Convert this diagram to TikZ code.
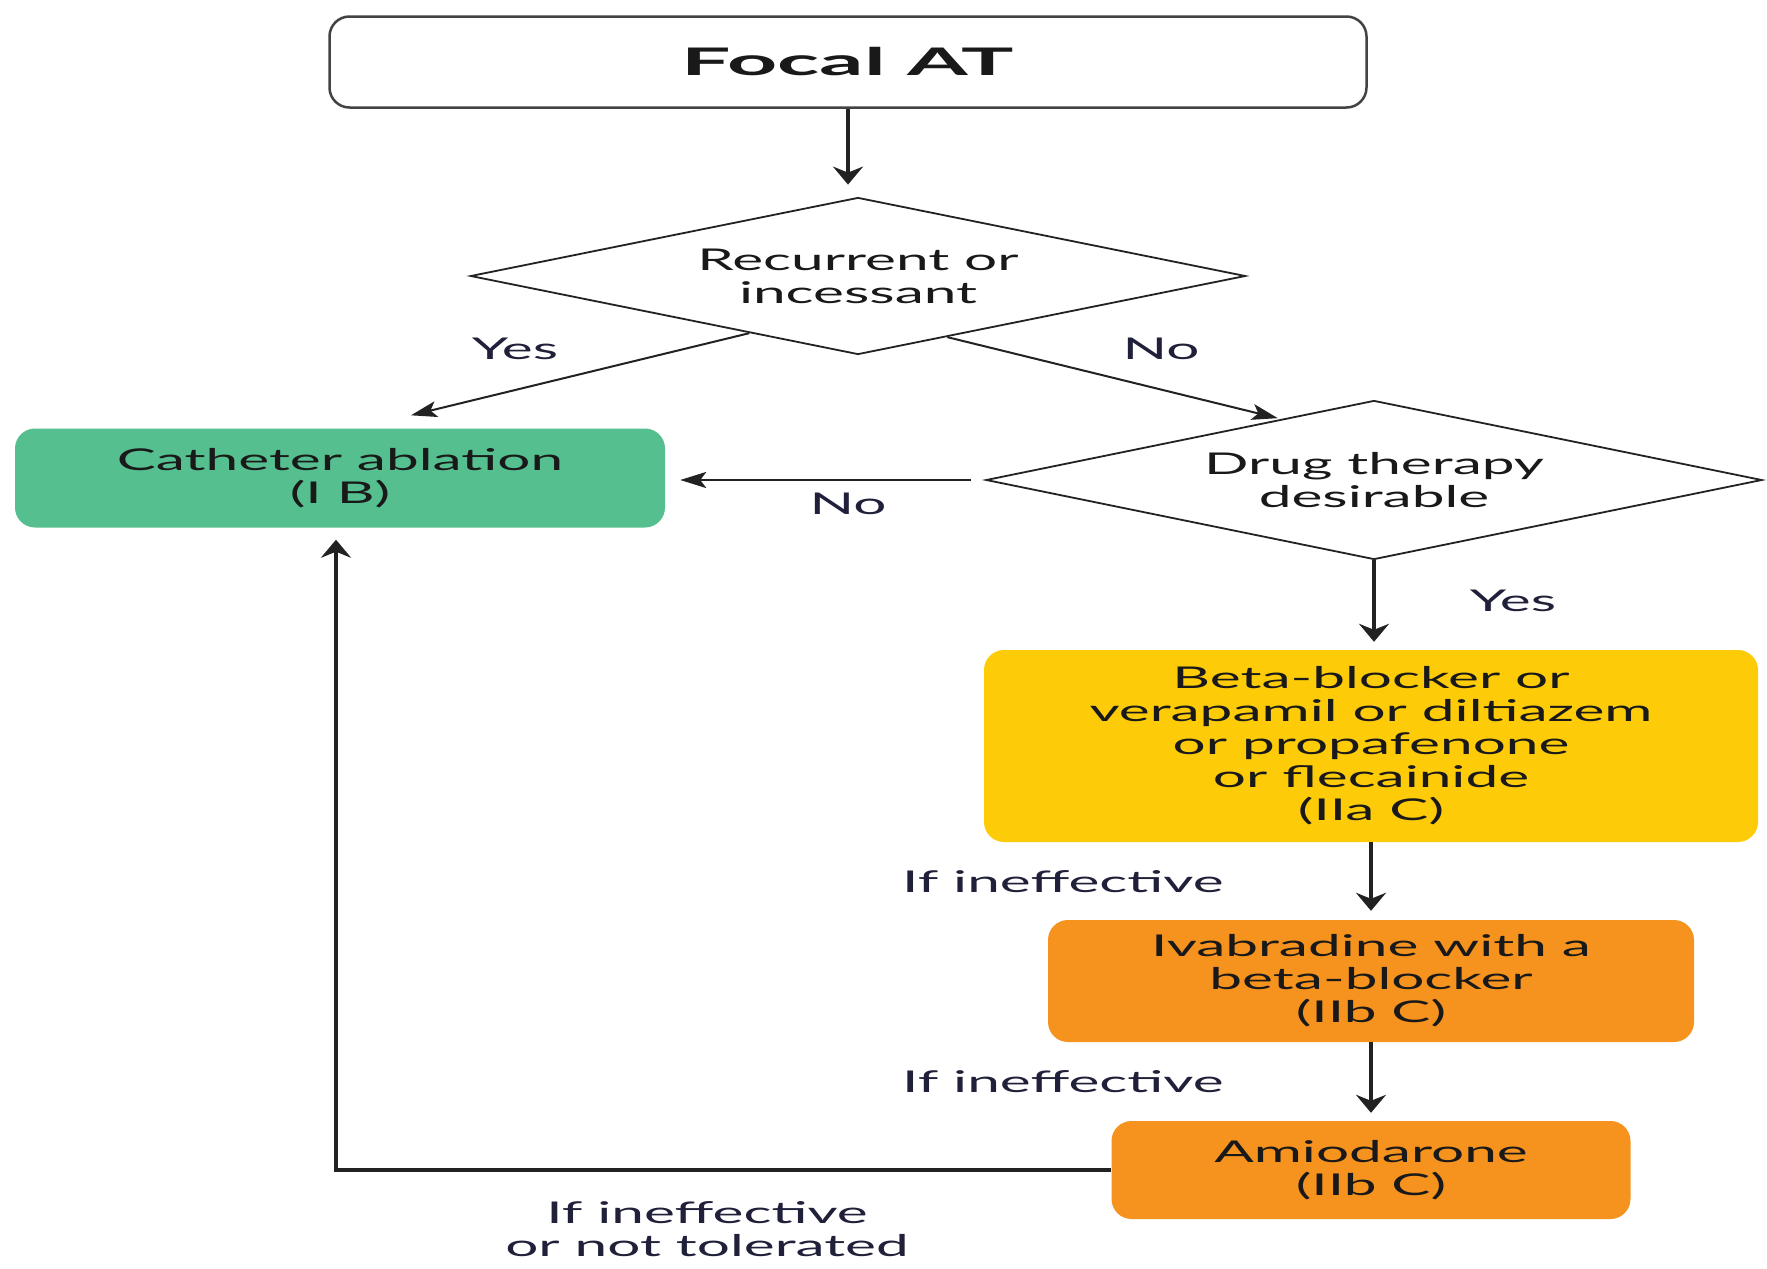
\documentclass[tikz,border=0pt]{standalone}
\usepackage{fontspec}
\setmainfont{Lato}[FakeStretch=1.95]
\usetikzlibrary{shapes.geometric,arrows.meta,calc}
\definecolor{cgreen}{HTML}{55BF8F}
\definecolor{cyellow}{HTML}{FDCB08}
\definecolor{corange}{HTML}{F6921E}
\definecolor{labc}{HTML}{20203A}
\definecolor{linec}{HTML}{222222}
\begin{document}
\begin{tikzpicture}[x=1pt,y=-1pt,
  font=\fontsize{30}{33}\selectfont,
  box/.style={rounded corners=20pt, inner sep=0pt, align=center, text=black!90},
  dec/.style={diamond, draw=linec, line width=1.8pt, inner sep=0pt, align=center, shape aspect=5, text=black!90},
  lab/.style={text=labc, inner sep=0pt},
  arr/.style={-{Stealth[length=18pt,width=30pt,inset=6pt]}, line width=4.2pt, draw=linec},
  tarr/.style={-{Stealth[length=26pt,width=16pt,inset=6pt]}, line width=2pt, draw=linec}]
\useasboundingbox (0,0) rectangle (1767,1269);
\fill[white] (0,0) rectangle (1767,1269);

\node[box, draw=linec!85, line width=2.5pt, minimum width=1037pt, minimum height=91pt,
      font=\fontsize{38}{40}\selectfont\bfseries] (focal) at (848,62) {\scalebox{1.18}[1]{Focal AT}};
\node[dec, minimum width=775pt, minimum height=157pt] (d1) at (858,276) {Recurrent or\\incessant};
\node[box, fill=cgreen, minimum width=650pt, minimum height=99pt] (cat) at (340,478) {Catheter ablation\\(I B)};
\node[dec, minimum width=776pt, minimum height=159pt] (d2) at (1374,480) {Drug therapy\\desirable};
\node[box, fill=cyellow, minimum width=774pt, minimum height=192pt] (bb) at (1371,746)
  {Beta-blocker or\\verapamil or diltiazem\\or propafenone\\or flecainide\\(IIa C)};
\node[box, fill=corange, minimum width=646pt, minimum height=122pt] (iva) at (1371,981)
  {Ivabradine with a\\beta-blocker\\(IIb C)};
\node[box, fill=corange, minimum width=519pt, minimum height=98pt] (amio) at (1371,1170)
  {Amiodarone\\(IIb C)};

\draw[arr, line width=3.6pt] (focal.south) -- ([yshift=12pt]focal.south |- d1.north);
\draw[tarr] ($(d1.west)!0.72!(d1.south)$) -- ([xshift=71pt,yshift=13pt]cat.north);
\draw[tarr, shorten >=3pt] ($(d1.south)!0.23!(d1.east)$) -- ($(d2.north)!0.24!(d2.west)$);
\draw[tarr, line width=2.8pt] ([xshift=-14pt]d2.west) -- ([xshift=15pt]cat.east |- d2.west);
\draw[arr, shorten >=8pt] (d2.south) -- (d2.south |- bb.north);
\draw[arr, shorten >=9pt] (bb.south) -- (iva.north);
\draw[arr, shorten >=8pt] (iva.south) -- (amio.north);
\draw[arr, line width=3.4pt] (amio.west) -| ([xshift=-4pt,yshift=-12pt]cat.south);

\node[lab] (yes1) at (515,349) {Yes};
\node[lab] (no1) at (1161,349) {No};
\node[lab] (no2) at (848,504) {No};
\node[lab] (yes2) at (1513,601) {Yes};
\node[lab, anchor=west] (ie1) at (902,882) {If ineffective};
\node[lab, anchor=west] (ie2) at (902,1082) {If ineffective};
\node[lab, align=center] (ie3) at (707,1229) {If ineffective\\or not tolerated};
\end{tikzpicture}
\end{document}
